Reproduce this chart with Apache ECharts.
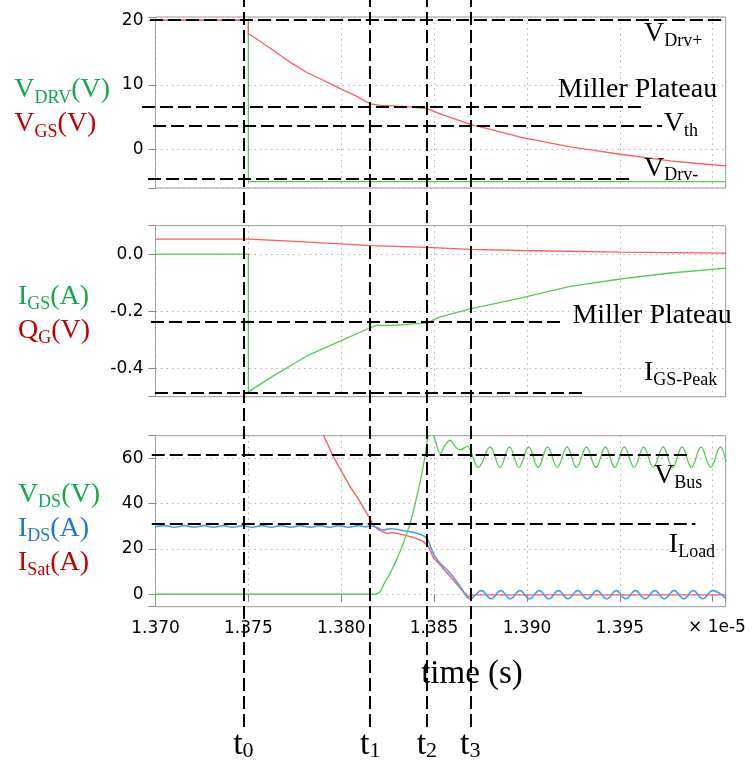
<!DOCTYPE html>
<html>
<head>
<meta charset="utf-8">
<script src="https://cdn.jsdelivr.net/npm/echarts/dist/echarts.min.js"></script>
<style>
html,body{margin:0;padding:0;background:#fff;}
#chart{width:752px;height:762px;}
</style>
</head>
<body>
<div id="chart"></div>
<script>
// time axis, units of 1e-5 s
const xMin = 1.370, xMax = 1.4007;
const xTickStep = 0.005;

// switching instants t0..t3
const tNames = ['0', '1', '2', '3'];
const tValues = [1.37473, 1.38156, 1.38461, 1.38695];

// panel 1 : VDRV / VGS (V)
const p1Range = [-6, 20.5];
const vdrv = [[1.370,20],[1.375,20],[1.375,-5],[1.4007,-5]];
const vgs = [[1.370,20],[1.375,20],[1.375,17.9],[1.37545,17.1],[1.37635,15.3],[1.37725,13.5],[1.37815,11.9],
  [1.37904,10.7],[1.37994,9.4],[1.38084,8.2],[1.38156,7.05],[1.38210,6.8],[1.38353,6.6],[1.38461,6.3],
  [1.38533,5.5],[1.38695,3.86],[1.38830,2.9],[1.38964,1.9],[1.39100,1.1],[1.39233,0.36],[1.39368,-0.2],
  [1.39503,-0.77],[1.39640,-1.3],[1.39772,-1.8],[1.39920,-2.2],[1.40072,-2.58]];
// reference levels [from, to, value]
const p1Refs = [[1.3697,1.4006,20],[1.36927,1.39620,6.65],[1.36987,1.39727,3.66],[1.3696,1.39574,-4.64]];
const p1Texts = ['V{s|Drv+}', 'Miller Plateau', 'V{s|th}', 'V{s|Drv-}'];

// panel 2 : IGS (A) / QG
const p2Range = [-0.5, 0.1];
const igs = [[1.370,0],[1.375,0],[1.375,-0.483],[1.37635,-0.427],[1.37815,-0.357],[1.37994,-0.305],
  [1.38156,-0.258],[1.38192,-0.25],[1.38281,-0.25],[1.38461,-0.241],[1.38533,-0.22],[1.38695,-0.192],
  [1.38964,-0.154],[1.39233,-0.113],[1.39503,-0.087],[1.39772,-0.066],[1.40072,-0.049]];
const qg = [[1.370,0.053],[1.375,0.053],[1.37725,0.046],[1.37994,0.036],[1.38156,0.030],[1.38461,0.024],
  [1.38695,0.017],[1.38964,0.013],[1.39503,0.007],[1.40072,0.0035]];
const p2Refs = [[1.36976,1.39179,-0.237],[1.36997,1.39323,-0.485]];
const p2Texts = ['Miller Plateau', 'I{s|GS-Peak}'];

// panel 3 : VDS (V) / IDS (A) / ISat (A)
const p3Range = [-5.5, 70];
const vds = [[1.370,0],[1.38183,0],[1.38237,5.6],[1.38281,12.2],[1.38327,21.0],[1.38371,31.3],[1.38407,43.1],
  [1.38434,53.4],[1.38452,61.4],[1.38470,70.5],[1.38488,71.5],[1.38506,68],[1.38533,62.2],[1.38560,65.9],
  [1.38587,68],[1.38614,65.1],[1.38641,63.7],[1.38677,65.3],[1.38738,56.0],[1.38802,65.0],[1.38855,56.0],
  [1.38906,65.0],[1.38957,56.0],[1.39009,65.0],[1.39060,56.0],[1.39111,65.0],[1.39163,56.0],[1.39216,65.0],
  [1.39267,56.0],[1.39320,65.0],[1.39371,56.0],[1.39422,65.0],[1.39473,56.0],[1.39524,65.0],[1.39577,56.0],
  [1.39628,65.0],[1.39680,56.0],[1.39733,65.0],[1.39784,56.0],[1.39835,65.0],[1.39886,56.0],[1.39937,65.0],
  [1.39989,56.0],[1.40041,65.0],[1.40072,58.5]];
const ids = [[1.37000,29.8],[1.37052,30.3],[1.37104,29.6],[1.37156,30.3],[1.37208,29.6],[1.37260,30.3],
  [1.37312,29.6],[1.37364,30.3],[1.37416,29.6],[1.37468,30.3],[1.37520,29.6],[1.37572,30.3],[1.37624,29.6],
  [1.37676,30.3],[1.37728,29.6],[1.37780,30.3],[1.37832,29.6],[1.37884,30.3],[1.37936,29.6],[1.37988,30.3],
  [1.38040,29.6],[1.38092,30.3],[1.38130,29.8],[1.38165,30.1],[1.38192,29.5],[1.38227,28.4],[1.38263,28.9],
  [1.38317,28.4],[1.38371,27.6],[1.38434,26.2],[1.38461,24.7],[1.38488,19.5],[1.38506,16.5],[1.38533,13.7],
  [1.38587,9.3],[1.38641,3.4],[1.38695,-2.0],[1.38755,1.6],[1.38807,-2.0],[1.38859,1.6],[1.38910,-2.0],
  [1.38962,1.6],[1.39014,-2.0],[1.39066,1.6],[1.39118,-2.0],[1.39170,1.6],[1.39221,-2.0],[1.39273,1.6],
  [1.39325,-2.0],[1.39377,1.6],[1.39429,-2.0],[1.39481,1.6],[1.39532,-2.0],[1.39584,1.6],[1.39636,-2.0],
  [1.39688,1.6],[1.39740,-2.0],[1.39792,1.6],[1.39844,-2.0],[1.39895,1.6],[1.39947,-2.0],[1.39999,1.6],
  [1.40072,-1.9]];
const isat = [[1.37876,73],[1.37904,70.3],[1.37958,60.7],[1.38048,47.5],[1.38102,40.8],[1.38138,35.7],
  [1.38173,30.6],[1.38200,28.4],[1.38246,26.9],[1.38281,27.2],[1.38335,26.2],[1.38389,25.1],[1.38443,23.2],
  [1.38470,21.0],[1.38497,15.9],[1.38533,12.9],[1.38587,7.8],[1.38641,2.6],[1.38685,-1.1],[1.38712,-0.3],
  [1.40072,-0.3]];
const p3Refs = [[1.3698,1.39871,61.4],[1.3698,1.39907,31.3]];
const p3Texts = ['V{s|Bus}', 'I{s|Load}'];

// ---- layout / style ----
const SERIF = '"Liberation Serif", "Times New Roman", serif';
const SANS = '"DejaVu Sans", Verdana, sans-serif';
const GREEN = '#55cc55', RED = '#ff5c5c', BLUE = '#4d9df2';
const N_GREEN = '#14a84e', N_RED = '#c00000', N_BLUE = '#1f78d1';
const DASH = {color: '#000', width: 2, type: [13, 5], opacity: 1};

const LEFT = 155.5, RIGHT = 26.3, PLOT_W = 752 - LEFT - RIGHT;
const PANEL_TOP = [17, 225.7, 435.7], PANEL_H = 171;
const perPx = (xMax - xMin) / PLOT_W;
const fullMin = xMin - LEFT * perPx, fullMax = xMax + RIGHT * perPx;

// where annotation texts start (left edge, vertical middle), data units of each panel
const textAt = [
  [[1.39627,17.87],[1.39163,9.23],[1.39734,3.9],[1.39627,-2.98]],
  [[1.39242,-0.217],[1.39627,-0.417]],
  [[1.39681,52.3],[1.39761,21.74]]
];

const yRanges = [p1Range, p2Range, p3Range];
const ySplit = [3, 3, 4];
const yFmt = [
  v => (Math.abs(v % 10) < 1e-9 ? String(v) : ''),
  v => (Math.abs(v * 5 - Math.round(v * 5)) < 1e-6 ? v.toFixed(1) : ''),
  v => (Math.abs(v % 20) < 1e-9 ? String(v) : '')
];
const yNames = [
  '{g|V}{gs|DRV}{g|(V)}\n{r|V}{rs|GS}{r|(V)}',
  '{g|I}{gs|GS}{g|(A)}\n{r|Q}{rs|G}{r|(V)}',
  '{g|V}{gs|DS}{g|(V)}\n{b|I}{bs|DS}{b|(A)}\n{r|I}{rs|Sat}{r|(A)}'
];
const yNameGap = [45.5, 65.5, 55.5];
const yNamePad = [9, 4, 15];

function big(c) { return {color: c, fontSize: 28, fontFamily: SERIF, lineHeight: 34, align: 'left'}; }
function sub(c) { return {color: c, fontSize: 18, fontFamily: SERIF, lineHeight: 18, verticalAlign: 'bottom', align: 'left'}; }
const nameRich = {g: big(N_GREEN), gs: sub(N_GREEN), r: big(N_RED), rs: sub(N_RED), b: big(N_BLUE), bs: sub(N_BLUE)};

const grid = [], xAxis = [], yAxis = [], series = [];

PANEL_TOP.forEach((t, i) => {
  grid.push({left: LEFT, width: PLOT_W, top: t, height: PANEL_H, show: true, borderColor: '#999', borderWidth: 1});
  xAxis.push({
    type: 'value', gridIndex: i, min: xMin, max: xMax, interval: xTickStep,
    axisLine: {show: false},
    axisTick: {show: i === 2, length: 7, lineStyle: {color: '#888'}},
    axisLabel: {show: i === 2, margin: 13, color: '#000', fontFamily: SANS, fontSize: 17,
      formatter: v => (v > 1.3995 || Math.abs(v / xTickStep - Math.round(v / xTickStep)) > 1e-6 ? '' : v.toFixed(3))},
    splitLine: {show: true, lineStyle: {color: '#b3b3b3', type: [1.5, 4]}}
  });
  yAxis.push({
    type: 'value', gridIndex: i, min: yRanges[i][0], max: yRanges[i][1], splitNumber: ySplit[i],
    axisLine: {show: false},
    axisTick: {show: true, length: 7, lineStyle: {color: '#888'}},
    axisLabel: {margin: 12, color: '#000', fontFamily: SANS, fontSize: 17, formatter: yFmt[i]},
    splitLine: {show: true, lineStyle: {color: '#b3b3b3', type: [1.5, 4]}},
    name: yNames[i], nameLocation: 'middle', nameRotate: 0, nameGap: yNameGap[i],
    nameTextStyle: {padding: [yNamePad[i], 0, 0, 0], rich: nameRich}
  });
});

// overlays spanning the full figure width, same vertical scale as each panel
PANEL_TOP.forEach((t, i) => {
  grid.push({left: 0, width: 752, top: t, height: PANEL_H});
  xAxis.push({type: 'value', gridIndex: 3 + i, min: fullMin, max: fullMax, show: false});
  yAxis.push({type: 'value', gridIndex: 3 + i, min: yRanges[i][0], max: yRanges[i][1], show: false});
});
// overlay for the vertical time markers
grid.push({left: LEFT, width: PLOT_W, top: 0, height: 727});
xAxis.push({type: 'value', gridIndex: 6, min: xMin, max: xMax, show: false});
yAxis.push({type: 'value', gridIndex: 6, min: 0, max: 1, show: false});

function curve(data, color, k, width, smooth) {
  return {type: 'line', xAxisIndex: k, yAxisIndex: k, data: data, symbol: 'none', showSymbol: false,
    smooth: smooth || false, silent: true, clip: true,
    lineStyle: {color: color, width: width}, itemStyle: {color: color}};
}
series.push(curve(vdrv, GREEN, 0, 1.3));
series.push(curve(vgs, RED, 0, 1.3));
series.push(curve(igs, GREEN, 1, 1.3));
series.push(curve(qg, RED, 1, 1.3));
series.push(curve(isat, RED, 2, 1.4));
series.push(curve(ids, BLUE, 2, 1.6, 0.4));
series.push(curve(vds, GREEN, 2, 1.3, 0.4));

const refs = [p1Refs, p2Refs, p3Refs];
const texts = [p1Texts, p2Texts, p3Texts];
refs.forEach((lines, i) => {
  series.push({
    type: 'line', xAxisIndex: 3 + i, yAxisIndex: 3 + i, data: [], silent: true, z: 5,
    markLine: {
      silent: true, precision: 6, symbol: ['none', 'none'], animation: false, lineStyle: DASH, label: {show: false},
      data: lines.map(l => [{coord: [l[0], l[2]]}, {coord: [l[1], l[2]]}])
    },
    markPoint: {
      silent: true, precision: 6, symbol: 'circle', symbolSize: 1, animation: false, itemStyle: {color: 'rgba(0,0,0,0)'},
      label: {show: true, position: 'right', distance: 0, color: '#000', fontFamily: SERIF, fontSize: 28,
        lineHeight: 32, formatter: p => p.name,
        rich: {s: {color: '#000', fontFamily: SERIF, fontSize: 18, lineHeight: 16, verticalAlign: 'bottom'}}},
      data: texts[i].map((s, j) => ({name: s, coord: textAt[i][j]}))
    }
  });
});

series.push({
  type: 'line', xAxisIndex: 6, yAxisIndex: 6, data: [], silent: true, z: 5,
  markLine: {
    silent: true, precision: 6, symbol: ['none', 'none'], animation: false, lineStyle: DASH,
    label: {show: true, position: 'start', distance: 1, color: '#000', fontFamily: SERIF, fontSize: 34,
      lineHeight: 34, formatter: p => p.name,
      rich: {s: {color: '#000', fontFamily: SERIF, fontSize: 22, lineHeight: 12, verticalAlign: 'bottom'}}},
    data: tValues.map((v, i) => ({xAxis: v, name: 't{s|' + tNames[i] + '}'}))
  }
});

const chart = echarts.init(document.getElementById('chart'));
chart.setOption({
  animation: false,
  backgroundColor: '#fff',
  grid: grid, xAxis: xAxis, yAxis: yAxis, series: series,
  graphic: [
    {type: 'text', x: 472, y: 674, z: 1,
      style: {text: 'time (s)', font: '33px "Liberation Serif"', fill: '#000', align: 'center', verticalAlign: 'middle', textAlign: 'center', textVerticalAlign: 'middle'}},
    {type: 'text', x: 688, y: 628, z: 1,
      style: {text: '\u00d7 1e-5', font: '17px "DejaVu Sans"', fill: '#000', align: 'left', verticalAlign: 'middle', textAlign: 'left', textVerticalAlign: 'middle'}}
  ]
});
</script>
</body>
</html>
